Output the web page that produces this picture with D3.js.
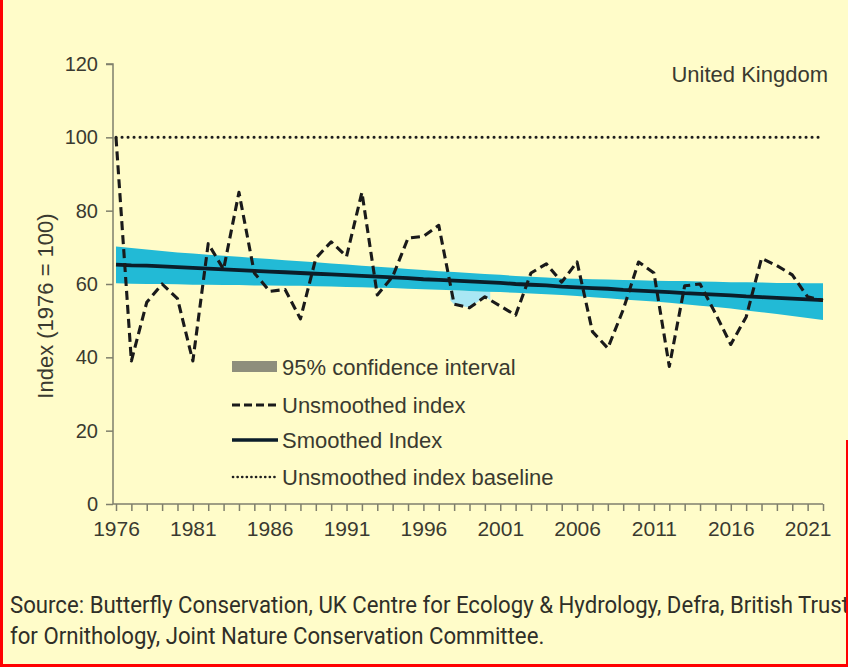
<!DOCTYPE html>
<html><head><meta charset="utf-8">
<script src="https://cdn.jsdelivr.net/npm/d3@7"></script>
<style>
html,body{margin:0;padding:0;background:#FFFCC9;overflow:hidden;}
svg{display:block;}
</style></head>
<body>
<svg id="chart" width="848" height="667"></svg>
<script>
const years = d3.range(1976, 2023);
const unsmoothed = [100,39,55,60,56,39,71,64,85,63,58,58.5,50.5,67,71.5,67.5,85,57,62,72.5,73,76,54.5,53.5,56.5,54,51.5,63,65.5,60.5,66,47,42.5,53,66,63,37.5,59.5,60,52,43.5,51,67,65,62.5,56.5,55.5];
const smoothed = [65.3,65.1,65.0,64.8,64.6,64.4,64.2,64.0,63.8,63.6,63.4,63.2,63.0,62.8,62.6,62.4,62.2,62.0,61.8,61.6,61.3,61.1,60.9,60.7,60.5,60.3,60.0,59.8,59.6,59.3,59.1,58.9,58.7,58.4,58.2,58.0,57.8,57.5,57.3,57.1,56.9,56.6,56.4,56.2,56.0,55.8,55.6];
const ciUpper = [70.2,69.8,69.4,69.0,68.6,68.3,68.0,67.7,67.4,67.1,66.8,66.5,66.2,65.9,65.6,65.3,65.0,64.7,64.4,64.1,63.8,63.5,63.3,63.0,62.7,62.5,62.2,62.0,61.8,61.5,61.4,61.3,61.2,61.1,61.0,60.9,60.8,60.8,60.7,60.6,60.5,60.5,60.4,60.3,60.3,60.2,60.2];
const ciLower = [60.2,60.1,60.0,60.0,59.9,59.8,59.8,59.7,59.7,59.6,59.6,59.5,59.5,59.4,59.3,59.2,59.1,59.0,58.9,58.7,58.6,58.4,58.3,58.1,57.9,57.8,57.6,57.4,57.2,57.0,56.7,56.4,56.1,55.8,55.5,55.2,54.9,54.5,54.1,53.7,53.3,52.8,52.3,51.8,51.3,50.7,50.2];
const baselineValue = 100;
const yTicks = [0,20,40,60,80,100,120];
const xTickLabels = [1976,1981,1986,1991,1996,2001,2006,2011,2016,2021];
const legendItems = ["95% confidence interval","Unsmoothed index","Smoothed Index","Unsmoothed index baseline"];
const sourceLines = ["Source: Butterfly Conservation, UK Centre for Ecology & Hydrology, Defra, British Trust","for Ornithology, Joint Nature Conservation Committee."];

const svg = d3.select("#chart");
const W = 848, H = 667;
const x = d3.scaleLinear().domain([1976, 2022]).range([116, 823]);
const y = d3.scaleLinear().domain([0, 120]).range([504, 64]);
const rows = years.map((yr,i)=>({yr, u:unsmoothed[i], s:smoothed[i], hi:ciUpper[i], lo:ciLower[i]}));
const txt = "#3a3a30";
const axisCol = "#7f7f6c";
const font = "'Liberation Sans', Arial, sans-serif";

svg.append("rect").attr("width",W).attr("height",H).attr("fill","#FFFCC9");

// light patch (chart artifact) between band and dipping index, 1998-2000
svg.append("clipPath").attr("id","patch").append("rect")
  .attr("x", x(1997.75)).attr("y",0).attr("width", x(2000.35)-x(1997.75)).attr("height",H);
svg.append("path").datum(rows).attr("clip-path","url(#patch)")
  .attr("d", d3.area().x(d=>x(d.yr)).y0(d=>y(d.lo)).y1(d=>y(Math.min(d.u,d.lo))))
  .attr("fill","#A9E7F4");

// CI band
svg.append("path").datum(rows)
  .attr("d", d3.area().x(d=>x(d.yr)).y0(d=>y(d.lo)).y1(d=>y(d.hi)))
  .attr("fill","#22BAD6");

// baseline dotted
svg.append("line")
  .attr("x1", x(1976)).attr("x2", x(2022))
  .attr("y1", y(baselineValue)).attr("y2", y(baselineValue))
  .attr("stroke","#1e1e1e").attr("stroke-width",3)
  .attr("stroke-dasharray","0.1 5.9").attr("stroke-linecap","round");

// smoothed
svg.append("path").datum(rows)
  .attr("d", d3.line().x(d=>x(d.yr)).y(d=>y(d.s)))
  .attr("fill","none").attr("stroke","#0b1d29").attr("stroke-width",3.8);

// unsmoothed dashed
svg.append("path").datum(rows)
  .attr("d", d3.line().x(d=>x(d.yr)).y(d=>y(d.u)))
  .attr("fill","none").attr("stroke","#1a1a1a").attr("stroke-width",3.1)
  .attr("stroke-dasharray","9 5").attr("stroke-linejoin","round");

// y axis
const yAxis = svg.append("g").attr("transform",`translate(${x(1976)-3},0)`)
  .call(d3.axisLeft(y).tickValues(yTicks).tickSize(7).tickPadding(8).tickFormat(d3.format("d")));
yAxis.select(".domain").attr("stroke",axisCol).attr("stroke-width",1.5).attr("d",`M-7,${y(120)}H0V${y(0)}`);
yAxis.selectAll(".tick line").attr("stroke",axisCol).attr("stroke-width",1.5);
yAxis.selectAll(".tick text").attr("fill",txt).style("font-family",font).style("font-size","20px");

// x axis
const xAxis = svg.append("g").attr("transform",`translate(0,${y(0)})`)
  .call(d3.axisBottom(x).tickValues(years).tickSize(7).tickPadding(10).tickFormat(d => xTickLabels.includes(d) ? String(d) : ""));
xAxis.select(".domain").attr("stroke",axisCol).attr("stroke-width",1.5).attr("d",`M${x(1976)-3},0H${x(2022)}`);
xAxis.selectAll(".tick line").attr("stroke",axisCol).attr("stroke-width",1.5);
xAxis.selectAll(".tick text").attr("fill",txt).style("font-family",font).style("font-size","21px");

// y title
svg.append("text").attr("transform","translate(53,306) rotate(-90)")
  .attr("text-anchor","middle").attr("fill",txt)
  .style("font-family",font).style("font-size","22px")
  .text("Index (1976 = 100)");

// United Kingdom label
svg.append("text").attr("x",828).attr("y",82).attr("text-anchor","end")
  .attr("fill",txt).style("font-family",font).style("font-size","22px")
  .text("United Kingdom");

// legend
const legY = [367, 405, 440, 477];
const lg = svg.append("g");
lg.append("rect").attr("x",232).attr("y",legY[0]-6).attr("width",45).attr("height",11).attr("fill","#8e8e7c");
lg.append("line").attr("x1",232).attr("x2",278).attr("y1",legY[1]).attr("y2",legY[1])
  .attr("stroke","#1a1a1a").attr("stroke-width",3).attr("stroke-dasharray","8 4");
lg.append("line").attr("x1",232).attr("x2",278).attr("y1",legY[2]).attr("y2",legY[2])
  .attr("stroke","#0b1d29").attr("stroke-width",3.6);
lg.append("line").attr("x1",233).attr("x2",278).attr("y1",legY[3]).attr("y2",legY[3])
  .attr("stroke","#1e1e1e").attr("stroke-width",2.6).attr("stroke-dasharray","0.1 4.5").attr("stroke-linecap","round");
lg.selectAll("text.leg").data(legendItems).enter().append("text")
  .attr("class","leg").attr("x",282).attr("y",(d,i)=>legY[i]+8)
  .attr("fill",txt).style("font-family",font).style("font-size","22px")
  .text(d=>d);

// source (condensed look)
const src = svg.append("g").attr("transform","translate(10,0) scale(0.965,1)");
src.selectAll("text.src").data(sourceLines).enter().append("text")
  .attr("class","src").attr("x",0).attr("y",(d,i)=>613+i*31)
  .attr("fill","#2f2f28").style("font-family","Roboto, 'Liberation Sans', sans-serif")
  .style("font-size","23px")
  .text(d=>d);

// red border
svg.append("rect").attr("x",0).attr("y",0).attr("width",3).attr("height",H).attr("fill","#FF0000");
svg.append("rect").attr("x",0).attr("y",H-3).attr("width",W).attr("height",3).attr("fill","#FF0000");
svg.append("rect").attr("x",W-2).attr("y",440).attr("width",2).attr("height",H-440).attr("fill","#FF0000");
</script>
</body></html>
